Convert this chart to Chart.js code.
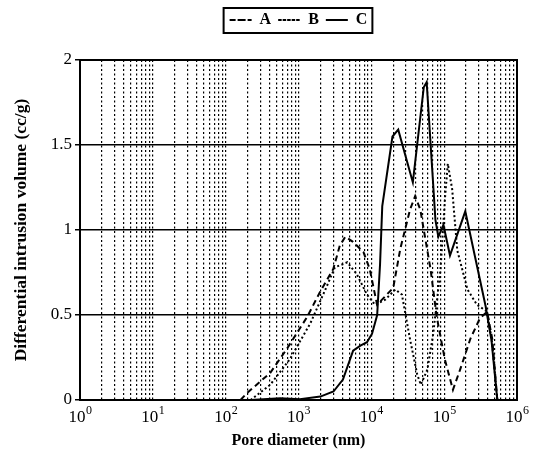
<!DOCTYPE html>
<html>
<head>
<meta charset="utf-8">
<script src="https://cdn.jsdelivr.net/npm/chart.js@4.4.0/dist/chart.umd.min.js"></script>
<style>
  html, body { margin: 0; padding: 0; background: #fff; }
  #wrap { width: 536px; height: 456px; }
</style>
</head>
<body>
<div id="wrap"><canvas id="chart" width="536" height="456"></canvas></div>
<script>
const seriesNames = ['A', 'B', 'C']

// pore diameter (nm) / differential intrusion volume (cc/g)
const diamA = [160, 195, 410, 690, 1320, 2000, 3000, 3700, 4400, 5600, 7800, 9500, 12000, 20000, 25000, 34000, 40000, 47000, 65000, 79000, 102000, 132000, 166000, 229000, 309000, 389000, 457000, 537000]
const volA = [0, 0.04, 0.16, 0.3, 0.49, 0.64, 0.77, 0.91, 0.96, 0.93, 0.87, 0.77, 0.56, 0.66, 0.89, 1.12, 1.2, 1.12, 0.77, 0.49, 0.24, 0.06, 0.18, 0.36, 0.48, 0.52, 0.36, 0]

const diamB = [220, 410, 760, 1450, 2340, 3160, 4680, 6310, 8710, 11220, 15490, 21380, 26300, 33880, 42660, 47860, 58880, 70790, 89130, 102300, 112200, 128800, 151400, 208900, 281800, 389000, 457000, 537000]
const volB = [0, 0.09, 0.24, 0.45, 0.65, 0.78, 0.81, 0.74, 0.62, 0.56, 0.59, 0.65, 0.62, 0.36, 0.15, 0.09, 0.18, 0.39, 0.77, 1.18, 1.39, 1.24, 0.88, 0.65, 0.56, 0.52, 0.33, 0]

const diamC = [219, 562, 1047, 1995, 3020, 4074, 5623, 7079, 8710, 10233, 12023, 13180, 14125, 19500, 23400, 37150, 52500, 57500, 75860, 83180, 97700, 120200, 195000, 263000, 371500, 446700, 537000]
const volC = [0, 0.01, 0.005, 0.02, 0.05, 0.12, 0.29, 0.32, 0.34, 0.39, 0.5, 0.8, 1.14, 1.55, 1.59, 1.28, 1.84, 1.87, 1.06, 0.96, 1.03, 0.85, 1.11, 0.85, 0.55, 0.35, 0]

const xDecades = [0, 1, 2, 3, 4, 5, 6]
const yTicks = [0, 0.5, 1, 1.5, 2]

const toPoints = (xs, ys) => xs.map((x, i) => ({ x: x, y: ys[i] }))

// dotted grid at 1..9 of every decade
const gridValues = []
xDecades.forEach((p, i) => {
  if (i === xDecades.length - 1) {
    gridValues.push(Math.pow(10, p))
    return
  }
  for (let m = 1; m <= 9; m++) gridValues.push(m * Math.pow(10, p))
})

const serif = "'Liberation Serif', 'DejaVu Serif', serif"
Chart.defaults.font.family = serif
Chart.defaults.color = '#000'

const framePlugin = {
  id: 'frame',
  afterLayout(chart) {
    // centre the legend over the plot area and lift it to the top
    const lg = chart.legend
    const a = chart.chartArea
    const shift = (a.left + a.right) / 2 - (lg.left + lg.right) / 2
    lg.left += shift
    lg.right += shift
    lg.top = 5
  },
  afterDraw(chart) {
    const { ctx, chartArea: a } = chart
    ctx.save()
    ctx.strokeStyle = '#000'
    ctx.lineWidth = 2
    ctx.strokeRect(a.left, a.top, a.right - a.left, a.bottom - a.top)
    const boxes = chart.legend.legendHitBoxes
    if (boxes && boxes.length) {
      const l = Math.min(...boxes.map(b => b.left)) - 6
      const r = Math.max(...boxes.map(b => b.left + b.width)) + 5
      const t = Math.min(...boxes.map(b => b.top)) - 4
      const btm = Math.max(...boxes.map(b => b.top + b.height)) + 5
      ctx.strokeRect(l, t, r - l, btm - t)
    }

    // decade labels 10^n with a raised exponent
    const xs = chart.scales.x
    ctx.fillStyle = '#000'
    ctx.textBaseline = 'alphabetic'
    xDecades.forEach(p => {
      const px = xs.getPixelForValue(Math.pow(10, p))
      ctx.font = '17px ' + serif
      const base = '10'
      const bw = ctx.measureText(base).width
      ctx.font = '12px ' + serif
      const ew = ctx.measureText(String(p)).width
      const left = px - (bw + ew) / 2
      ctx.font = '17px ' + serif
      ctx.textAlign = 'left'
      ctx.fillText(base, left, a.bottom + 22)
      ctx.font = '12px ' + serif
      ctx.fillText(String(p), left + bw + 0.5, a.bottom + 14)
    })
    ctx.restore()
  }
}

const ctx = document.getElementById('chart').getContext('2d')
new Chart(ctx, {
  type: 'line',
  data: {
    datasets: [
      {
        label: seriesNames[0],
        data: toPoints(diamA, volA),
        borderColor: '#000',
        backgroundColor: 'rgba(0,0,0,0)',
        borderWidth: 2,
        borderDash: [6, 4],
        pointRadius: 0,
        tension: 0,
      },
      {
        label: seriesNames[1],
        data: toPoints(diamB, volB),
        borderColor: '#000',
        backgroundColor: 'rgba(0,0,0,0)',
        borderWidth: 2,
        borderDash: [2, 2.5],
        pointRadius: 0,
        tension: 0,
      },
      {
        label: seriesNames[2],
        data: toPoints(diamC, volC),
        borderColor: '#000',
        backgroundColor: 'rgba(0,0,0,0)',
        borderWidth: 2,
        pointRadius: 0,
        tension: 0,
      },
    ],
  },
  options: {
    responsive: false,
    animation: false,
    layout: {
      padding: { top: 27, right: 19, left: 0, bottom: 0 },
    },
    plugins: {
      legend: {
        position: 'top',
        align: 'center',
        labels: {
          boxWidth: 22,
          boxHeight: 0,
          padding: 7,
          color: '#000',
          font: { family: serif, size: 16, weight: 'bold' },
        },
      },
      tooltip: { enabled: false },
    },
    scales: {
      x: {
        type: 'logarithmic',
        min: 1,
        max: 1e6,
        afterBuildTicks: (axis) => {
          axis.ticks = gridValues.map(v => ({ value: v }))
        },
        afterFit: (scale) => {
          scale.height = 56
        },
        ticks: {
          display: false,
          autoSkip: false,
        },
        grid: {
          color: '#000',
          lineWidth: 1.2,
          tickLength: 0,
        },
        border: { display: false, dash: [2, 2.5] },
        title: {
          display: true,
          text: 'Pore diameter (nm)',
          font: { family: serif, size: 16, weight: 'bold' },
          padding: { top: 0, bottom: 6 },
        },
      },
      y: {
        min: 0,
        max: 2,
        afterBuildTicks: (axis) => {
          axis.ticks = yTicks.map(v => ({ value: v }))
        },
        afterFit: (scale) => {
          scale.width = 80
        },
        ticks: {
          padding: 3,
          font: { family: serif, size: 17 },
          callback: (value) => String(value),
        },
        grid: {
          color: '#000',
          lineWidth: 1.5,
          tickLength: 5,
        },
        border: { display: false },
        title: {
          display: true,
          text: 'Differential intrusion volume (cc/g)',
          font: { family: serif, size: 17.5, weight: 'bold' },
          padding: { top: 11, bottom: 0 },
        },
      },
    },
  },
  plugins: [framePlugin],
})
</script>
</body>
</html>
